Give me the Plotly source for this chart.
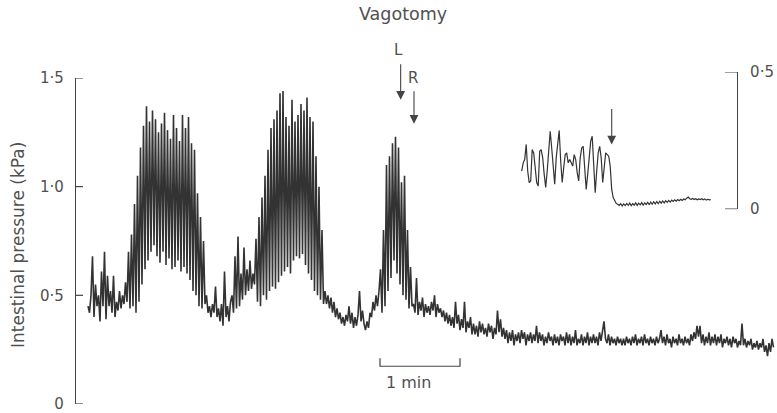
import numpy as np
import plotly.graph_objects as go

# ---------------- data ----------------
SAMPLE_DT = 1.125  # seconds between digitised samples

baseline_start = [0.45, 0.42, 0.50, 0.68, 0.40, 0.55, 0.45, 0.50, 0.38, 0.61, 0.45, 0.70, 0.39,
                  0.59, 0.45, 0.52, 0.42, 0.59, 0.40, 0.47, 0.43, 0.52, 0.44, 0.50, 0.46, 0.56, 0.47]

burst1_peaks = [0.70, 0.78, 0.92, 1.05, 1.18, 1.28, 1.37, 1.30, 1.35, 1.31, 1.25, 1.29, 1.34,
                1.26, 1.22, 1.33, 1.27, 1.21, 1.33, 1.27, 1.32, 1.20, 1.17, 0.97, 0.86, 0.75]
burst1_troughs = [0.44, 0.45, 0.42, 0.47, 0.55, 0.62, 0.66, 0.70, 0.73, 0.68, 0.65, 0.70, 0.64,
                  0.67, 0.62, 0.63, 0.66, 0.61, 0.63, 0.60, 0.57, 0.52, 0.50, 0.45, 0.44, 0.46]

between_1 = [0.50, 0.42, 0.45, 0.40, 0.46, 0.42, 0.54, 0.40, 0.44, 0.38, 0.46, 0.36, 0.61,
             0.40, 0.45, 0.38, 0.47]
between_2 = [0.50, 0.42, 0.68, 0.44, 0.77, 0.45, 0.60, 0.48, 0.72, 0.50, 0.62, 0.52, 0.66,
             0.53, 0.60, 0.55]

burst2_peaks = [0.76, 0.86, 0.95, 1.05, 1.17, 1.27, 1.31, 1.35, 1.43, 1.44, 1.32, 1.28, 1.40,
                1.30, 1.33, 1.38, 1.35, 1.41, 1.32, 1.30, 1.14, 1.00, 0.80]
burst2_troughs = [0.47, 0.45, 0.50, 0.48, 0.52, 0.54, 0.53, 0.56, 0.59, 0.61, 0.63, 0.60, 0.66,
                  0.68, 0.67, 0.69, 0.64, 0.60, 0.57, 0.52, 0.50, 0.48, 0.46]

between_3 = [0.52, 0.46, 0.50, 0.44, 0.49, 0.42, 0.47, 0.40, 0.44, 0.39, 0.42, 0.37, 0.40,
             0.36, 0.41, 0.38, 0.45, 0.37, 0.42, 0.35, 0.40, 0.36, 0.41, 0.52, 0.38, 0.43,
             0.37, 0.34, 0.38, 0.35, 0.42, 0.40, 0.47, 0.43, 0.50, 0.45, 0.52]

burst3_peaks = [0.62, 0.80, 1.10, 1.14, 1.20, 1.23, 1.18, 1.02, 1.05, 0.80, 0.63]
burst3_troughs = [0.42, 0.45, 0.52, 0.58, 0.66, 0.60, 0.55, 0.50, 0.48, 0.44, 0.45]

after_vagotomy = [
    0.46, 0.42, 0.58, 0.41, 0.47, 0.43, 0.49, 0.40, 0.46, 0.42, 0.45, 0.41, 0.47, 0.43, 0.50, 0.40, 0.46, 0.42, 0.44, 0.40,
    0.43, 0.38, 0.42, 0.37, 0.41, 0.36, 0.40, 0.35, 0.47, 0.37, 0.41, 0.34, 0.39, 0.35, 0.47, 0.33, 0.38, 0.35, 0.40, 0.32,
    0.37, 0.32, 0.36, 0.31, 0.38, 0.33, 0.37, 0.32, 0.35, 0.31, 0.37, 0.33, 0.36, 0.30, 0.35, 0.32, 0.43, 0.33, 0.39, 0.31,
    0.35, 0.30, 0.34, 0.28, 0.33, 0.29, 0.34, 0.27, 0.32, 0.29, 0.33, 0.28, 0.34, 0.30, 0.33, 0.27, 0.32, 0.29, 0.33, 0.28,
    0.32, 0.29, 0.36, 0.28, 0.33, 0.29, 0.32, 0.27, 0.31, 0.28, 0.33, 0.29, 0.31, 0.27, 0.32, 0.28, 0.31, 0.27, 0.32, 0.29,
    0.31, 0.27, 0.33, 0.28, 0.32, 0.27, 0.31, 0.28, 0.34, 0.27, 0.30, 0.28, 0.32, 0.27, 0.31, 0.28, 0.33, 0.27, 0.31, 0.28,
    0.32, 0.28, 0.31, 0.27, 0.33, 0.29, 0.35, 0.38, 0.30, 0.28, 0.32, 0.27, 0.31, 0.28, 0.30, 0.27, 0.31, 0.28, 0.30, 0.27,
    0.30, 0.27, 0.31, 0.28, 0.30, 0.27, 0.31, 0.28, 0.32, 0.27, 0.30, 0.28, 0.31, 0.27, 0.32, 0.28, 0.30, 0.27, 0.31, 0.28,
    0.30, 0.27, 0.31, 0.28, 0.30, 0.34, 0.28, 0.31, 0.27, 0.32, 0.28, 0.30, 0.26, 0.31, 0.28, 0.30, 0.27, 0.32, 0.28, 0.30,
    0.27, 0.31, 0.28, 0.30, 0.27, 0.32, 0.29, 0.33, 0.30, 0.36, 0.31, 0.36, 0.28, 0.32, 0.27, 0.31, 0.28, 0.33, 0.27, 0.31,
    0.28, 0.32, 0.27, 0.31, 0.28, 0.32, 0.26, 0.30, 0.28, 0.31, 0.27, 0.30, 0.26, 0.31, 0.28, 0.30, 0.26, 0.29, 0.27, 0.37,
    0.27, 0.30, 0.26, 0.29, 0.27, 0.30, 0.25, 0.28, 0.26, 0.29, 0.25, 0.28, 0.26, 0.30, 0.24, 0.27, 0.22, 0.28, 0.24, 0.30, 0.26,
]

# inset (expanded scale, 0-0.5 kPa)
inset_before = [0.139, 0.169, 0.181, 0.236, 0.139, 0.097, 0.103, 0.217, 0.205, 0.145, 0.097, 0.084, 0.211,
                0.217, 0.187, 0.127, 0.079, 0.139, 0.223, 0.284, 0.223, 0.139, 0.091, 0.187, 0.248, 0.287,
                0.175, 0.097, 0.151, 0.199, 0.205, 0.169, 0.181, 0.169, 0.157, 0.199, 0.181, 0.133, 0.103,
                0.187, 0.223, 0.229, 0.151, 0.072, 0.127, 0.199, 0.248, 0.266, 0.163, 0.060, 0.139, 0.205,
                0.229, 0.187, 0.097, 0.163, 0.205, 0.199, 0.193, 0.157, 0.072, 0.042, 0.030, 0.021, 0.018]
inset_after = [0.014, 0.020, 0.012, 0.019, 0.013, 0.021, 0.014, 0.022, 0.013, 0.020, 0.015, 0.023, 0.014,
               0.022, 0.016, 0.024, 0.015, 0.023, 0.017, 0.025, 0.016, 0.026, 0.018, 0.027, 0.019, 0.028,
               0.020, 0.029, 0.022, 0.030, 0.023, 0.031, 0.025, 0.032, 0.026, 0.033, 0.028, 0.034, 0.029,
               0.035, 0.031, 0.036, 0.032, 0.037, 0.034, 0.040, 0.044, 0.038, 0.036, 0.039, 0.035, 0.038,
               0.034, 0.037, 0.035, 0.038, 0.034, 0.037, 0.033, 0.036, 0.034, 0.035]

y_tick_vals = [0, 0.5, 1.0, 1.5]
y_tick_text = ["0", "0·5", "1·0", "1·5"]
inset_tick_vals = [0, 0.5]
inset_tick_text = ["0", "0·5"]

L_time, R_time = 234.5, 244.5          # s, vagal section times
inset_arrow_time = 67.5                # s, in inset trace
scale_start, scale_len = 219.0, 60.0   # 1 min scale bar


def interleave(peaks, troughs):
    out = []
    for p, t in zip(peaks, troughs):
        out += [p, t]
    return out


pressure = (baseline_start + interleave(burst1_peaks, burst1_troughs) + between_1 + between_2
            + interleave(burst2_peaks, burst2_troughs) + between_3
            + interleave(burst3_peaks, burst3_troughs) + after_vagotomy)
time = np.arange(len(pressure)) * SAMPLE_DT

inset_pressure = inset_before + inset_after
inset_time = np.arange(len(inset_pressure)) * SAMPLE_DT

# ---------------- figure ----------------
FONT = "DejaVu Sans"
TXT = "#505050"
LINE = "#333333"
AX = "#444444"

fig = go.Figure()
fig.add_trace(go.Scatter(x=time, y=pressure, mode="lines",
                         line=dict(color=LINE, width=1.6), hoverinfo="skip", showlegend=False))
fig.add_trace(go.Scatter(x=inset_time, y=inset_pressure, mode="lines", xaxis="x2", yaxis="y2",
                         line=dict(color=LINE, width=1.2), hoverinfo="skip", showlegend=False))

W, H = 777, 413
ml, mr, mt, mb = 76, 0, 72, 7
pw, ph = W - ml - mr, H - mt - mb


def px_x(p):
    return (p - ml) / pw


def px_y(p):
    return (H - mb - p) / ph


fig.update_layout(
    width=W, height=H,
    margin=dict(l=ml, r=mr, t=mt, b=mb),
    paper_bgcolor="white", plot_bgcolor="white",
    xaxis=dict(domain=[0, 1], range=[-9, 516.75], visible=False),
    yaxis=dict(domain=[0, px_y(78)], range=[0, 1.5], tickvals=y_tick_vals, ticktext=y_tick_text,
               ticks="", showline=True, linecolor=AX, linewidth=1.2, showgrid=False, zeroline=False,
               ticklabelstandoff=8, ticklabeloverflow="allow",
               tickfont=dict(family=FONT, size=15, color=TXT)),
    xaxis2=dict(domain=[px_x(520), px_x(737)], range=[-1.275, 161.475], anchor="y2", visible=False),
    yaxis2=dict(domain=[px_y(210), 1], range=[0, 0.5], anchor="x2", side="right",
                tickvals=inset_tick_vals, ticktext=inset_tick_text, ticks="",
                showline=True, linecolor=AX, linewidth=1.2,
                showgrid=False, zeroline=False, ticklabelstandoff=9, ticklabeloverflow="allow",
                tickfont=dict(family=FONT, size=15, color=TXT)),
    showlegend=False,
)

# tick marks (drawn inward, as in the original)
for v in y_tick_vals:
    fig.add_shape(type="line", xref="paper", yref="y", x0=0, x1=px_x(83), y0=v, y1=v,
                  line=dict(color=AX, width=1.2))
for v in inset_tick_vals:
    fig.add_shape(type="line", xref="paper", yref="y2", x0=px_x(725), x1=px_x(737), y0=v, y1=v,
                  line=dict(color=AX, width=1.2))


def label(text, x, y, size, xref="paper", angle=0):
    return dict(text=text, xref=xref, yref="paper", x=x, y=y, xanchor="center", yanchor="middle",
                textangle=angle, showarrow=False, font=dict(family=FONT, size=size, color=TXT))


ann = [
    label("Vagotomy", px_x(403), px_y(14), 17.5),
    label("Intestinal pressure (kPa)", px_x(18), px_y(246), 17, angle=-90),
    label("L", L_time - 1.5, px_y(50), 15, xref="x"),
    label("R", R_time - 0.5, px_y(78), 15, xref="x"),
    label("1 min", (408 - 88) * 0.75, px_y(384), 16, xref="x"),
]
for t, tip, length in [(L_time, 100, 37), (R_time, 124, 34)]:
    ann.append(dict(text="", xref="x", yref="paper", x=t, y=px_y(tip), ax=0, ay=-length,
                    showarrow=True, arrowhead=2, arrowsize=1.6, arrowwidth=1.1, arrowcolor=AX))
ann.append(dict(text="", xref="x2", yref="y2", x=inset_arrow_time, y=0.2355, ax=0, ay=-37,
                showarrow=True, arrowhead=2, arrowsize=1.6, arrowwidth=1.1, arrowcolor=AX))
fig.update_layout(annotations=ann)

fig.add_shape(type="path", xref="x", yref="paper",
              path=f"M {scale_start},{px_y(360)} L {scale_start},{px_y(368)} "
                   f"L {scale_start + scale_len},{px_y(368)} L {scale_start + scale_len},{px_y(360)}",
              line=dict(color=AX, width=1.2))

fig.write_html("out.html")
